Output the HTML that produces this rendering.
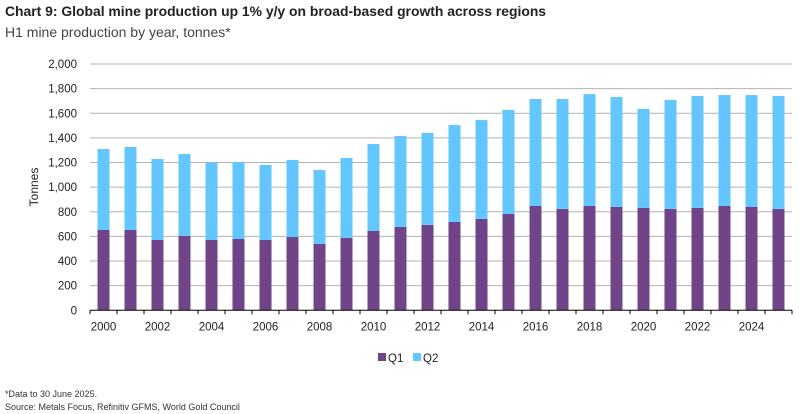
<!DOCTYPE html>
<html><head><meta charset="utf-8"><style>
body{margin:0;width:799px;height:414px;background:#fff;font-family:"Liberation Sans",sans-serif;overflow:hidden;position:relative}
.t{position:absolute;left:5px;top:3px;font-size:13.9px;font-weight:bold;color:#222}
.s{position:absolute;left:5px;top:24px;font-size:14px;color:#444}
.f{position:absolute;left:5px;font-size:9px;color:#333}
</style></head><body>
<div class="t">Chart 9: Global mine production up 1% y/y on broad-based growth across regions</div>
<div class="s">H1 mine production by year, tonnes*</div>
<svg id="c" width="799" height="414" style="position:absolute;left:0;top:0"></svg>
<div class="f" style="top:389px">*Data to 30 June 2025.</div>
<div class="f" style="top:402px">Source: Metals Focus, Refinitiv GFMS, World Gold Council</div>
<script>
const years=[2000,2001,2002,2003,2004,2005,2006,2007,2008,2009,2010,2011,2012,2013,2014,2015,2016,2017,2018,2019,2020,2021,2022,2023,2024,2025];
const q1=[652,652,571,604,571,579,571,595,539,587,644,677,693,717,742,782,847,823,847,839,831,823,831,847,839,823];
const totals=[1310,1326,1229,1269,1199,1204,1180,1221,1139,1237,1350,1415,1440,1505,1545,1627,1716,1716,1756,1732,1635,1708,1740,1748,1748,1740];
const yTicks=[0,200,400,600,800,1000,1200,1400,1600,1800,2000];
const svg=document.getElementById('c');const NS='http://www.w3.org/2000/svg';
const x0=90,x1=792,yb=310.3,yt=64;
const y=v=>yb-(v/2000)*(yb-yt);
const step=(x1-x0)/years.length;
const xc=i=>x0+step*(i+0.5);
function mk(t,a,txt){const e=document.createElementNS(NS,t);for(const k in a)e.setAttribute(k,a[k]);if(txt!==undefined)e.textContent=txt;svg.appendChild(e);return e;}
yTicks.forEach(v=>{
 if(v>0){const g=mk('line',{x1:x0,x2:x1,y1:y(v),y2:y(v),stroke:'#b3b3b3','stroke-width':1});
 
 }
 const l=mk('text',{x:77,y:y(v)+4,'text-anchor':'end','font-size':11.5,fill:'#222'},v.toLocaleString('en-US'));
 
 
});
years.forEach((yr,i)=>{
 const q2=totals[i]-q1[i];
 const b1=mk('rect',{x:xc(i)-6,width:12,y:y(q1[i]),height:yb-y(q1[i]),fill:'#704488'});
 
 
 const b2=mk('rect',{x:xc(i)-6,width:12,y:y(q1[i]+q2),height:y(q1[i])-y(q1[i]+q2),fill:'#63c6ff'});
 
 
 mk('line',{x1:x0+step*i,x2:x0+step*i,y1:yb,y2:yb+4,stroke:'#000'});
 if(i%2==0){const t=mk('text',{x:xc(i),y:yb+20,'text-anchor':'middle','font-size':11.5,fill:'#222'},yr);
 
 }
});
mk('line',{x1:x1,x2:x1,y1:yb,y2:yb+4,stroke:'#000'});
const ax=mk('line',{x1:x0,x2:x1,y1:yb,y2:yb,stroke:'#000'});


const yt2=mk('text',{x:38,y:187,'text-anchor':'middle','font-size':12,fill:'#222',transform:'rotate(-90 38 187)'},'Tonnes');


[['Q1','#704488',378],['Q2','#63c6ff',413]].forEach(([n,c,lx])=>{
 const r=mk('rect',{x:lx,y:353,width:8,height:8,fill:c});
 
 
 const t=mk('text',{x:lx+10,y:362,'font-size':11.5,fill:'#222'},n);
 
 
});
</script>
</body></html>
